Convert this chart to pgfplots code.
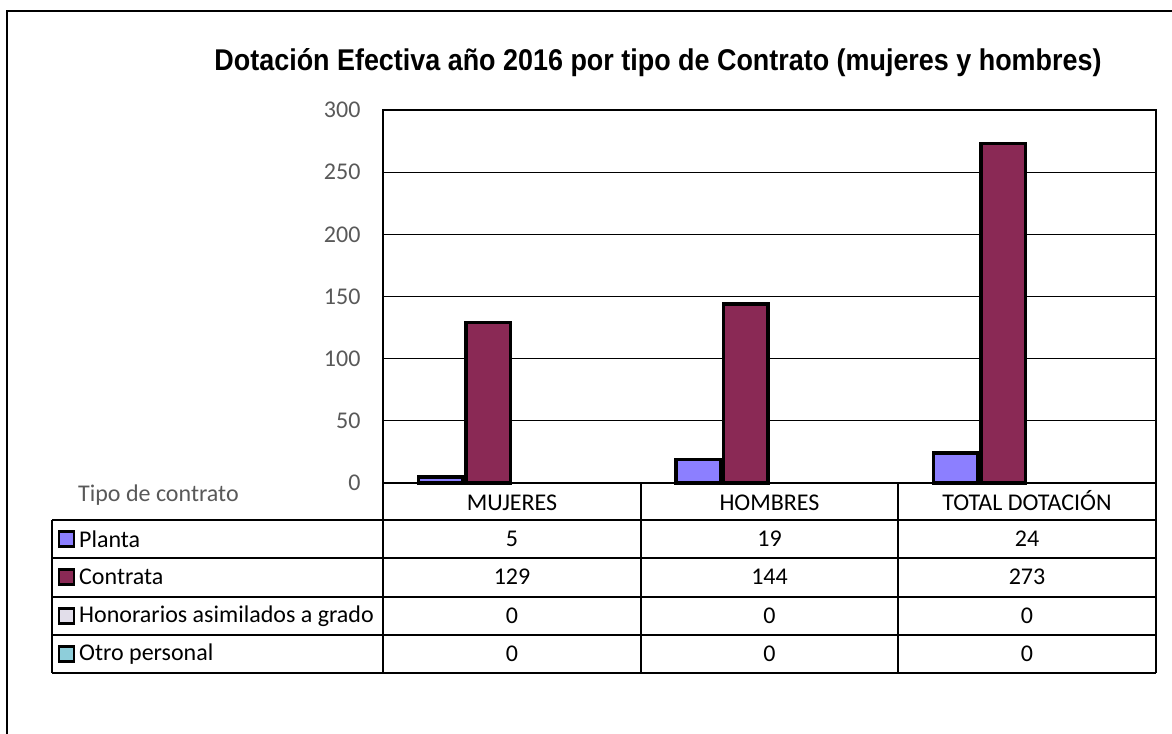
\documentclass[border=0pt]{standalone}
\usepackage{pgfplots}
\pgfplotsset{compat=1.18}
\usepackage{fontspec}
\setmainfont{Carlito}
\newfontfamily\titlefont{Liberation Sans}
\definecolor{planta}{HTML}{8C7FFF}
\definecolor{contrata}{HTML}{8A2955}
\definecolor{honorarios}{HTML}{E2DEEA}
\definecolor{otro}{HTML}{8ECEDA}
\definecolor{tickgray}{HTML}{595959}
\newcommand{\bodyfont}{\fontsize{24bp}{28bp}\selectfont}
\begin{document}
\begin{tikzpicture}
\useasboundingbox (0,0) rectangle (1172bp,-734bp);
% outer chart frame (only top and left visible)
\draw[line width=1.5bp] (7bp,-734bp) -- (7bp,-11bp) -- (1172bp,-11bp);
\node[font=\titlefont\bfseries\fontsize{30bp}{34bp}\selectfont, anchor=base, inner sep=0pt] at (658bp,-70bp)
  {\resizebox{887bp}{\height}{Dotación Efectiva año 2016 por tipo de Contrato (mujeres y hombres)}};
\begin{axis}[
    at={(383bp,-483bp)}, anchor=south west,
    scale only axis, width=773bp, height=373bp,
    xmin=-0.5, xmax=2.5, xtick=\empty,
    ymin=0, ymax=300, ytick={0,50,...,300},
    ybar=3bp, bar width=44.5bp,
    ymajorgrids, grid style={black, line width=1.3bp},
    axis line style={black, line width=1.6bp},
    major tick length=0pt,
    y tick label style={font=\fontsize{24bp}{28bp}\selectfont, text=tickgray, xshift=-19bp},
    /pgf/number format/assume math mode=true,
    clip=false,
]
\addplot[fill=planta, draw=black, line width=3.5bp] coordinates {(0,5) (1,19) (2,24)};
\addplot[fill=contrata, draw=black, line width=3.5bp] coordinates {(0,129) (1,144) (2,273)};
\addplot[draw=none, fill=none] coordinates {(0,0) (1,0) (2,0)};
\addplot[draw=none, fill=none] coordinates {(0,0) (1,0) (2,0)};
\end{axis}
% data table
\begin{scope}[line width=1.6bp]
\draw (383bp,-483bp) -- (1156bp,-483bp);
\foreach \y in {520,558,597,635,673} \draw (52bp,-\y bp) -- (1156bp,-\y bp);
\draw (52bp,-520bp) -- (52bp,-673bp);
\foreach \x in {383,641,898,1156} \draw (\x bp,-483bp) -- (\x bp,-673bp);
\end{scope}
\node[font=\bodyfont, text=tickgray, anchor=west, inner sep=0pt] at (78bp,-495bp) {Tipo de contrato};
\foreach \lab/\x in {MUJERES/512, HOMBRES/769.5, TOTAL DOTACIÓN/1027}
  \node[font=\bodyfont, anchor=base, inner sep=0pt] at (\x bp,-510bp) {\lab};
\foreach \y/\col/\lab/\a/\b/\c in {539/planta/Planta/5/19/24, 577/contrata/Contrata/129/144/273,
    616/honorarios/Honorarios asimilados a grado/0/0/0, 654/otro/Otro personal/0/0/0} {
  \draw[fill=\col, line width=2.5bp] (59bp,-\y bp+7.5bp) rectangle (74bp,-\y bp-7.5bp);
  \node[font=\bodyfont, anchor=west, inner sep=0pt] at (79bp,-\y bp) {\lab};
  \node[font=\bodyfont] at (512bp,-\y bp) {\a};
  \node[font=\bodyfont] at (769.5bp,-\y bp) {\b};
  \node[font=\bodyfont] at (1027bp,-\y bp) {\c};
}
\end{tikzpicture}
\end{document}
